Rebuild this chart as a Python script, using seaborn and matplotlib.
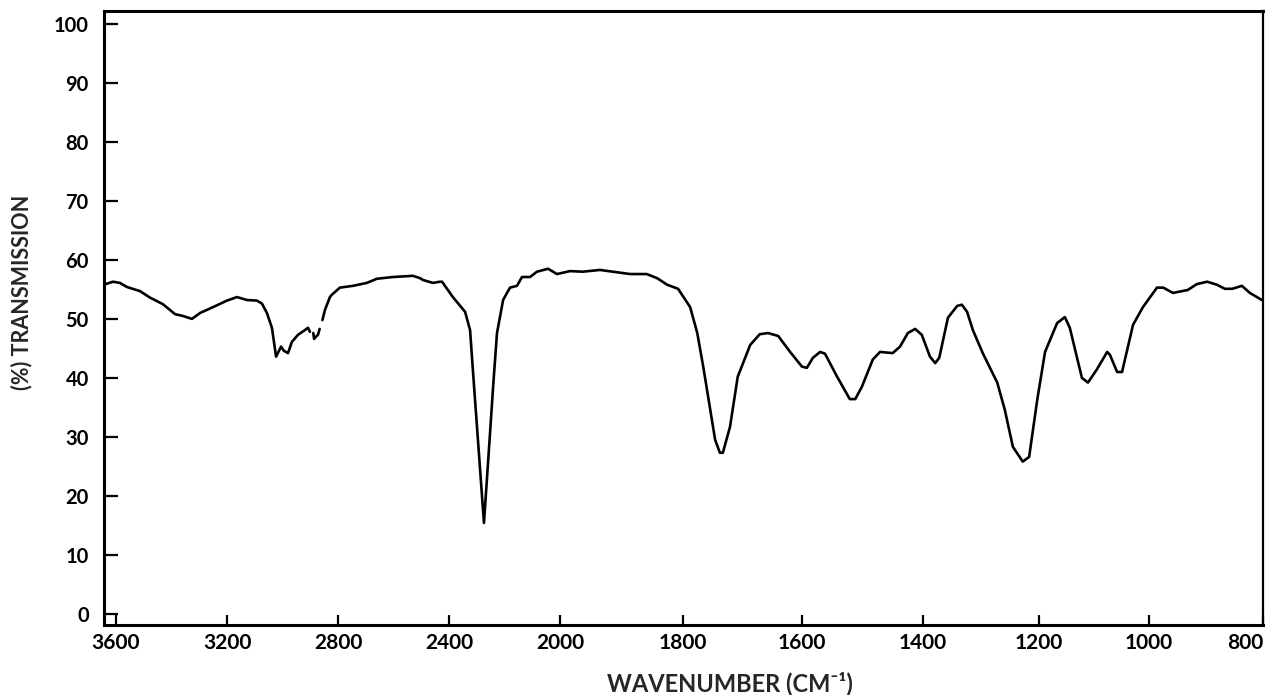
import numpy as np
import pandas as pd
import matplotlib
matplotlib.use("Agg")
import matplotlib.pyplot as plt
import seaborn as sns

# ---- data (wavenumber cm^-1, % transmission) ----
wn_1 = [3643, 3611, 3586, 3560, 3513, 3477, 3431, 3387, 3359, 3326, 3297, 3250,
        3200, 3164, 3128, 3092, 3074, 3056, 3038, 3023, 3005, 2995, 2980, 2966,
        2944, 2919, 2908, 2901]
tr_1 = [55.8, 56.3, 56.1, 55.4, 54.7, 53.6, 52.5, 50.8, 50.5, 50.0, 51.0, 52.0,
        53.1, 53.7, 53.2, 53.1, 52.6, 51.0, 48.5, 43.6, 45.3, 44.6, 44.2, 46.1,
        47.3, 48.1, 48.5, 47.8]

wn_2 = [2889, 2886, 2879, 2872, 2866]
tr_2 = [47.6, 46.6, 47.0, 47.3, 48.3]

wn_3 = [2856, 2847, 2829, 2822, 2793, 2746, 2696, 2660, 2602, 2530, 2504, 2494,
        2458, 2432, 2425, 2386, 2342, 2324, 2314, 2274, 2252, 2241, 2227, 2205,
        2191, 2180, 2155, 2137, 2108, 2083, 2043, 2011,
        1984, 1963, 1935, 1914, 1886, 1859, 1842, 1826, 1808,
        1788, 1776, 1766, 1755, 1746, 1738, 1733, 1721, 1708, 1687, 1671, 1657,
        1640, 1620, 1600, 1592, 1582, 1570, 1562, 1542, 1521, 1512, 1501, 1483,
        1471, 1450, 1438, 1425, 1413, 1402, 1388, 1379, 1372, 1357, 1341, 1333,
        1324, 1314, 1297, 1272, 1259, 1245, 1228, 1217, 1203, 1189, 1167, 1153,
        1144, 1122, 1111, 1095, 1076, 1071, 1058, 1049, 1029, 1011, 986, 975,
        958, 932, 916, 898, 881, 867, 854, 837, 823, 802]
tr_3 = [49.8, 51.5, 53.7, 54.1, 55.3, 55.6, 56.1, 56.8, 57.1, 57.3, 56.9, 56.6,
        56.1, 56.3, 56.3, 53.7, 51.2, 48.1, 41.4, 15.4, 30.7, 38.5, 47.6, 53.2,
        54.4, 55.3, 55.6, 57.1, 57.1, 58.0, 58.5, 57.6,
        58.1, 58.0, 58.3, 58.0, 57.6, 57.6, 56.9, 55.8, 55.1,
        52.0, 47.6, 41.9, 35.1, 29.5, 27.3, 27.3, 31.7, 40.2, 45.6, 47.4, 47.6,
        47.1, 44.4, 41.9, 41.7, 43.4, 44.4, 44.1, 40.2, 36.4, 36.4, 38.5, 43.1,
        44.4, 44.2, 45.3, 47.6, 48.3, 47.3, 43.6, 42.5, 43.4, 50.2, 52.2, 52.4,
        51.2, 48.1, 44.2, 39.2, 34.6, 28.3, 25.8, 26.6, 36.3, 44.4, 49.3, 50.3,
        48.5, 40.0, 39.2, 41.4, 44.4, 43.9, 41.0, 41.0, 49.0, 52.0, 55.3, 55.3,
        54.4, 54.9, 55.9, 56.3, 55.8, 55.1, 55.1, 55.6, 54.4, 53.2]

x_ticks = [3600, 3200, 2800, 2400, 2000, 1800, 1600, 1400, 1200, 1000, 800]
y_ticks = [0, 10, 20, 30, 40, 50, 60, 70, 80, 90, 100]

# ---- axis geometry of the chart paper (scale halves above 2000 cm^-1) ----
scale_wn = [800, 1000, 1200, 1400, 1600, 1800, 2000, 3643]
scale_pos = [0, 114, 224, 340, 461, 580, 703, 1159]


def _pl(v, xp, fp):
    v = np.asarray(v, dtype=float)
    out = np.interp(v, xp, fp)
    s0 = (fp[1] - fp[0]) / (xp[1] - xp[0])
    s1 = (fp[-1] - fp[-2]) / (xp[-1] - xp[-2])
    out = np.where(v < xp[0], fp[0] + (v - xp[0]) * s0, out)
    out = np.where(v > xp[-1], fp[-1] + (v - xp[-1]) * s1, out)
    return out


def fwd(w):
    return _pl(w, scale_wn, scale_pos)


def inv(p):
    return _pl(p, scale_pos, scale_wn)


df = pd.DataFrame({
    "wn": wn_1 + wn_2 + wn_3,
    "tr": tr_1 + tr_2 + tr_3,
    "seg": ["a"] * len(wn_1) + ["b"] * len(wn_2) + ["c"] * len(wn_3),
})

sns.set_style("ticks")
plt.rcParams["font.family"] = ["Lato", "DejaVu Sans"]
plt.rcParams["font.weight"] = "bold"

fig = plt.figure(figsize=(12.74, 6.95), dpi=100)
ax = fig.add_axes([104 / 1274, 70 / 695, 1159 / 1274, 614 / 695])

sns.lineplot(data=df, x="wn", y="tr", units="seg", estimator=None, sort=False,
             color="black", linewidth=1.9, legend=False, ax=ax)

ax.set_xscale("function", functions=(fwd, inv))
ax.set_xlim(3643, 800)
ax.set_ylim(-1.9, 102.2)

ax.set_xticks(x_ticks)
ax.set_xticklabels([str(t) for t in x_ticks], fontsize=15, fontweight="bold")
ax.set_yticks(y_ticks)
ax.set_yticklabels([str(t) for t in y_ticks], fontsize=14.5, fontweight="bold")
ax.xaxis.get_major_ticks()[0].tick1line.set_visible(False)
ax.xaxis.get_major_ticks()[-1].tick1line.set_visible(False)
ax.get_xticklabels()[-1].set_ha("right")

ax.tick_params(axis="y", direction="in", length=10, width=1.6, pad=11,
               colors="black", left=True, right=False)
ax.tick_params(axis="x", direction="in", length=7, width=1.6, pad=6,
               colors="black", bottom=True, top=False)

for side in ["left", "bottom", "top", "right"]:
    ax.spines[side].set_visible(True)
    ax.spines[side].set_color("black")
    ax.spines[side].set_linewidth(2.2)
ax.spines["right"].set_linewidth(1.6)

ax.set_xlabel("WAVENUMBER (CM\u207b\u00b9)", fontsize=17, fontweight="bold")
ax.xaxis.label.set_va("center")
ax.xaxis.set_label_coords(0.54, -0.0945)
ax.set_ylabel("(%) TRANSMISSION", fontsize=15.5, fontweight="bold")
ax.yaxis.label.set_va("center")
ax.yaxis.set_label_coords(-0.0708, 0.541)

fig.savefig("out.png", dpi=100, facecolor="white")
